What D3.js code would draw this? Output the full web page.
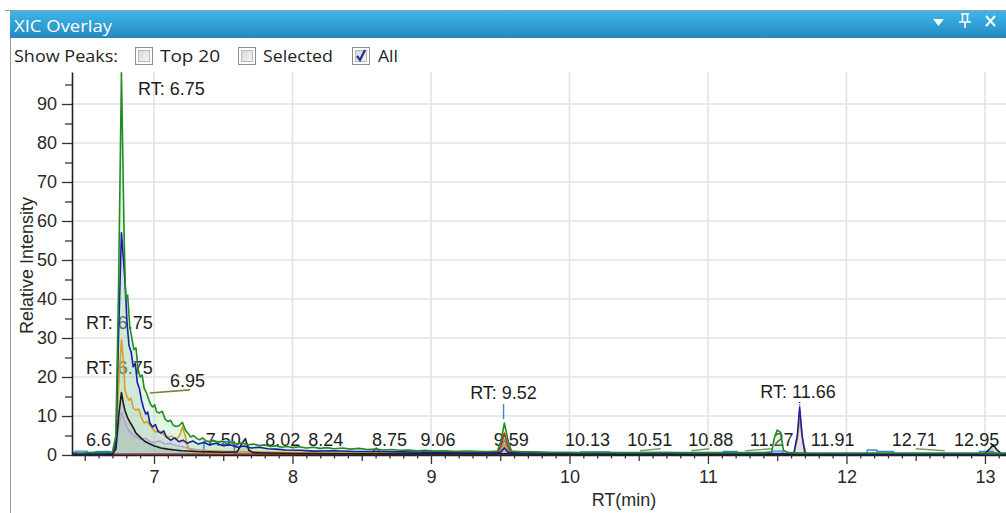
<!DOCTYPE html>
<html><head><meta charset="utf-8">
<script src="https://cdn.jsdelivr.net/npm/d3@7"></script>
<style>body{margin:0;background:#fff;overflow:hidden} svg{display:block}</style>
</head><body><svg id="c" width="1006" height="513"></svg>
<script>
// ---------------- data ----------------
const xTicks = [7, 8, 9, 10, 11, 12, 13];
const yTicks = [0, 10, 20, 30, 40, 50, 60, 70, 80, 90];

const greenXIC = [[6.40,0.6],[6.48,0.5],[6.56,0.7],[6.64,0.6],[6.70,0.8],[6.725,5],[6.745,45],[6.765,98],[6.785,55],[6.795,40],[6.81,41],[6.825,33],[6.84,30],[6.855,27],[6.87,27.5],[6.885,22],[6.90,20],[6.915,20.5],[6.93,17],[6.945,16],[6.96,14.5],[6.975,13],[6.99,12.3],[7.005,12.9],[7.02,11],[7.04,10.8],[7.06,11.2],[7.08,9.2],[7.10,8.6],[7.12,8.9],[7.14,7.6],[7.16,7.3],[7.18,7.5],[7.205,8.4],[7.225,6.5],[7.245,5.6],[7.265,4.6],[7.285,5.0],[7.31,4.2],[7.33,3.9],[7.35,4.4],[7.375,3.6],[7.40,3.4],[7.43,3.8],[7.46,3.2],[7.49,3.5],[7.52,3.0],[7.56,3.2],[7.60,2.9],[7.64,3.1],[7.68,2.6],[7.72,2.8],[7.76,2.4],[7.80,2.6],[7.84,2.2],[7.88,2.4],[7.92,2.0],[7.96,2.2],[8.00,1.9],[8.05,2.1],[8.10,1.8],[8.15,2.0],[8.20,1.7],[8.25,1.9],[8.30,1.6],[8.36,1.8],[8.42,1.5],[8.48,1.7],[8.54,1.4],[8.60,1.5],[8.66,1.3],[8.72,1.4],[8.78,1.2],[8.84,1.3],[8.90,1.1],[8.96,1.2],[9.02,1.0],[9.10,1.1],[9.18,0.9],[9.26,1.0],[9.34,0.9],[9.42,0.9],[9.48,1.0],[9.505,3.5],[9.53,8.2],[9.555,4.0],[9.58,1.0],[9.66,0.8],[9.76,0.8],[9.86,0.7],[9.96,0.7],[10.06,0.6],[10.2,0.7],[10.35,0.6],[10.5,0.6],[10.65,0.7],[10.8,0.6],[10.95,0.6],[11.1,0.6],[11.25,0.6],[11.40,0.6],[11.46,0.8],[11.48,4.5],[11.50,6.4],[11.525,5.8],[11.545,1.2],[11.58,0.6],[11.7,0.5],[11.85,0.5],[12.0,0.5],[12.2,0.5],[12.4,0.5],[12.6,0.5],[12.8,0.5],[13.0,0.5],[13.16,0.5]];

const navyXIC = [[6.40,0.3],[6.60,0.3],[6.70,0.4],[6.725,3],[6.745,32],[6.765,57],[6.78,50],[6.795,42],[6.805,34],[6.82,28],[6.835,26.5],[6.85,22.6],[6.865,23.5],[6.88,18.5],[6.895,17],[6.91,14],[6.925,12],[6.94,10.5],[6.955,11],[6.97,8.2],[6.99,7.2],[7.01,7.8],[7.03,6.0],[7.05,5.6],[7.07,6.2],[7.09,4.6],[7.12,3.8],[7.15,4.4],[7.18,3.4],[7.21,3.8],[7.24,3.0],[7.28,3.6],[7.32,2.8],[7.36,3.2],[7.40,2.6],[7.45,3.0],[7.50,2.4],[7.55,2.6],[7.60,2.0],[7.65,2.3],[7.70,1.8],[7.76,2.0],[7.82,1.6],[7.88,1.5],[7.95,1.3],[8.05,1.2],[8.15,1.0],[8.3,1.1],[8.45,0.9],[8.6,0.9],[8.8,0.8],[9.0,0.7],[9.2,0.7],[9.4,0.6],[9.50,0.6],[9.53,1.8],[9.56,0.6],[9.8,0.5],[10.2,0.4],[10.6,0.4],[11.0,0.4],[11.4,0.4],[11.62,0.4],[11.645,5],[11.662,12.3],[11.68,5],[11.70,0.4],[12.0,0.3],[12.6,0.3],[13.16,0.3]];

const goldXIC = [[6.40,0.2],[6.70,0.3],[6.725,2],[6.745,18],[6.765,29.5],[6.78,24],[6.79,16.7],[6.805,15],[6.82,14],[6.835,14.5],[6.85,12],[6.87,11.5],[6.89,11.8],[6.91,9.5],[6.93,8.2],[6.95,8.6],[6.98,7.2],[7.01,5.9],[7.04,6.2],[7.07,5.2],[7.10,4.6],[7.13,4.8],[7.16,4.0],[7.185,5.0],[7.205,7.2],[7.225,5],[7.245,2],[7.27,1.2],[7.35,1.1],[7.45,1.0],[7.55,0.9],[7.7,0.8],[7.9,0.7],[8.1,0.6],[8.4,0.5],[8.8,0.5],[9.2,0.4],[9.50,0.4],[9.53,2.5],[9.56,0.4],[10,0.3],[11,0.3],[11.62,0.3],[11.645,4],[11.663,9.3],[11.685,3.5],[11.71,0.3],[12.2,0.3],[13.16,0.3]];

const lilacXIC = [[6.40,0.1],[6.70,0.2],[6.725,1.5],[6.745,7],[6.765,11],[6.785,9],[6.80,7.5],[6.82,6.2],[6.85,5.0],[6.88,4.5],[6.91,4.0],[6.94,4.3],[6.97,3.5],[7.00,3.2],[7.04,3.6],[7.08,2.8],[7.12,3.0],[7.16,2.4],[7.20,2.2],[7.25,1.7],[7.30,1.4],[7.40,1.1],[7.50,0.9],[7.7,0.7],[8.0,0.5],[8.5,0.4],[9.0,0.3],[10,0.3],[11,0.2],[12,0.2],[13.16,0.2]];

const blackXIC = [[6.40,0.1],[6.70,0.2],[6.725,1.5],[6.745,10],[6.765,16],[6.78,13],[6.79,11.5],[6.81,9.5],[6.83,8.2],[6.85,7.0],[6.87,5.6],[6.90,4.6],[6.93,3.6],[6.96,3.0],[7.00,2.4],[7.05,1.8],[7.10,1.5],[7.15,1.3],[7.2,1.1],[7.3,0.9],[7.4,0.8],[7.5,0.7],[7.6,0.8],[7.635,3.0],[7.66,4.2],[7.685,1.2],[7.72,0.6],[7.8,0.5],[8.0,0.4],[8.5,0.3],[9.0,0.3],[9.5,0.3],[10,0.2],[11,0.2],[12,0.2],[12.95,0.2],[13.0,0.4],[13.035,1.6],[13.06,2.6],[13.085,1.4],[13.12,0.3],[13.16,0.2]];

const redXIC = [[6.40,0.1],[7.0,0.2],[8.0,0.2],[8.57,0.2],[8.59,1.2],[8.605,1.8],[8.62,1.2],[8.64,0.2],[9.0,0.2],[9.48,0.2],[9.505,2.5],[9.53,5.6],[9.555,2.5],[9.58,0.2],[10,0.1],[13.16,0.1]];

const grayXIC = [[6.40,0],[9.49,0.1],[9.51,2],[9.53,4],[9.55,2],[9.57,0.1],[13.16,0]];

const skyXIC = [[6.40,0.3],[6.43,0.3],[6.43,1.0],[6.52,1.0],[6.52,0.5],[6.58,0.5],[6.58,0.9],[6.68,0.9],[6.68,0.3],[7.36,0.3],[7.36,3.5],[7.58,3.5],[7.58,0.3],[8.94,0.3],[8.94,0.9],[9.37,0.9],[9.37,0.3],[10.08,0.3],[10.08,0.8],[10.29,0.8],[10.29,0.3],[11.11,0.3],[11.11,0.9],[11.21,0.9],[11.21,0.3],[11.46,0.3],[11.46,1.0],[11.54,1.0],[11.54,0.3],[12.15,0.3],[12.15,1.3],[12.22,1.3],[12.22,0.9],[12.34,0.9],[12.34,0.3],[12.96,0.3],[12.96,0.9],[13.06,0.9],[13.06,0.3],[13.16,0.3]];

// peak labels near the baseline
const peakLabelText = ["6.6","7.50","8.02","8.24","8.75","9.06","9.59","10.13","10.51","10.88","11.27","11.91","12.71","12.95"];
const peakLabelRT   = [6.60, 7.50, 7.93, 8.24, 8.70, 9.05, 9.58, 10.13, 10.58, 11.02, 11.46, 11.90, 12.49, 12.94];
// leader segments: peak RT -> label RT
const leaderFromRT = [10.51, 10.88, 11.27, 12.71];
const leaderToRT   = [10.66, 11.01, 11.46, 12.50];

// RT callouts
const calloutText  = ["RT: 6.75", "RT: 6.75", "RT: 6.75", "6.95", "RT: 9.52", "RT: 11.66"];
const calloutRT    = [6.885, 6.509, 6.509, 7.116, 9.524, 11.65];
const calloutLevel = [92.3, 32.3, 20.8, 17.4, 14.4, 14.6];

// ---------------- layout ----------------
const svg = d3.select("#c");
const W = 1006, H = 513;
const plot = {left: 72, right: 1006, top: 72, bottom: 455};

const x = d3.scaleLinear().domain([6.408, 13.152]).range([plot.left, plot.right]);
const y = d3.scaleLinear().domain([0, 98.2]).range([plot.bottom, plot.top]);

const defs = svg.append("defs");
const tg = defs.append("linearGradient").attr("id","titleG").attr("x1",0).attr("y1",0).attr("x2",0).attr("y2",1);
tg.append("stop").attr("offset","0%").attr("stop-color","#3fb8ea");
tg.append("stop").attr("offset","55%").attr("stop-color","#2f9fd4");
tg.append("stop").attr("offset","100%").attr("stop-color","#2788bf");
const cg = defs.append("linearGradient").attr("id","cbG").attr("x1",0).attr("y1",0).attr("x2",1).attr("y2",1);
cg.append("stop").attr("offset","0%").attr("stop-color","#d6d6d6");
cg.append("stop").attr("offset","100%").attr("stop-color","#f7f7f7");
defs.append("clipPath").attr("id","clip").append("rect")
  .attr("x", plot.left).attr("y", plot.top - 4).attr("width", plot.right - plot.left).attr("height", plot.bottom - plot.top + 5);

// window frame
svg.append("rect").attr("x",0).attr("y",0).attr("width",W).attr("height",H).attr("fill","#fff");
svg.append("rect").attr("x",10).attr("y",10).attr("width",W-10).attr("height",28).attr("fill","url(#titleG)");
svg.append("line").attr("x1",5).attr("x2",W).attr("y1",10.5).attr("y2",10.5).attr("stroke","#9a9a9a");
svg.append("line").attr("x1",10.5).attr("x2",10.5).attr("y1",38).attr("y2",H).attr("stroke","#9c9c9c");

svg.append("text").attr("x",14).attr("y",32).text("XIC Overlay")
  .attr("font-family","'Open Sans', 'Noto Sans', sans-serif").attr("font-size",16.5).attr("fill","#fff")
  .attr("textLength",98).attr("lengthAdjust","spacingAndGlyphs");
// title icons
svg.append("path").attr("d","M933,19 L944,19 L938.5,26 Z").attr("fill","#fff");
svg.append("path").attr("d","M961,14 L969,14 M962.5,14 L962.5,22 M967.5,14 L967.5,22 M959,22 L971,22 M965,22 L965,28")
  .attr("stroke","#fff").attr("stroke-width",1.6).attr("fill","none");
svg.append("path").attr("d","M986,16 L995,26 M995,16 L986,26").attr("stroke","#fff").attr("stroke-width",2).attr("fill","none");

// checkbox row
const ui = svg.append("g").attr("font-family","'Open Sans', 'Noto Sans', sans-serif").attr("font-size",16).attr("fill","#1e1e1e");
ui.append("text").attr("x",14).attr("y",62).text("Show Peaks:").attr("textLength",104).attr("lengthAdjust","spacingAndGlyphs");
const boxes = [{x:135, label:"Top 20", lx:160, lw:60, on:false},
               {x:238, label:"Selected", lx:263, lw:70, on:false},
               {x:352, label:"All", lx:378, lw:20, on:true}];
boxes.forEach(b => {
  ui.append("rect").attr("x",b.x+0.5).attr("y",47.5).attr("width",17).attr("height",17).attr("fill","#fff").attr("stroke","#8c8c8c");
  ui.append("rect").attr("x",b.x+3.5).attr("y",50.5).attr("width",11).attr("height",11).attr("fill","url(#cbG)").attr("stroke","#b9b9b9");
  if (b.on) ui.append("path").attr("d",`M${b.x+5},${56} L${b.x+8},${60} L${b.x+13},${50}`)
      .attr("stroke","#253a8e").attr("stroke-width",2.4).attr("fill","none");
  ui.append("text").attr("x",b.lx).attr("y",62).text(b.label).attr("textLength",b.lw).attr("lengthAdjust","spacingAndGlyphs");
});

// gridlines
const grid = svg.append("g").attr("stroke","#e3e3e3").attr("stroke-width",1.6);
xTicks.forEach(t => grid.append("line").attr("x1",x(t)).attr("x2",x(t)).attr("y1",plot.top).attr("y2",plot.bottom));
yTicks.filter(t => t > 0).forEach(t => grid.append("line").attr("x1",plot.left).attr("x2",plot.right).attr("y1",y(t)).attr("y2",y(t)));

const fontAxis = "'Liberation Sans', Arial, sans-serif";

// labels (drawn beneath the traces, as in the original)
const lab = svg.append("g").attr("font-family",fontAxis).attr("font-size",18).attr("fill","#1e1e1e");
peakLabelText.forEach((t, i) => lab.append("text").attr("x", x(peakLabelRT[i])).attr("y", y(2.3))
  .attr("text-anchor","middle").text(t));
calloutText.forEach((t, i) => lab.append("text").attr("x", x(calloutRT[i])).attr("y", y(calloutLevel[i]))
  .attr("text-anchor", i >= 4 ? "middle" : "start").text(t));

// leaders
const lg = svg.append("g").attr("clip-path","url(#clip)");
leaderFromRT.forEach((r, i) => lg.append("line").attr("x1",x(r)).attr("x2",x(leaderToRT[i]))
  .attr("y1",y(1.1)).attr("y2",y(1.6)).attr("stroke","#7f9a6e").attr("stroke-width",1.4));
lg.append("line").attr("x1",x(6.97)).attr("y1",y(15.9)).attr("x2",x(7.26)).attr("y2",y(16.7)).attr("stroke","#6e8a3c").attr("stroke-width",1.6);
lg.append("line").attr("x1",x(9.524)).attr("x2",x(9.524)).attr("y1",y(13.1)).attr("y2",y(9.2)).attr("stroke","#3b86d1").attr("stroke-width",1.4);
lg.append("line").attr("x1",x(11.662)).attr("x2",x(11.662)).attr("y1",y(13.6)).attr("y2",y(12.3)).attr("stroke","#1c1ca6").attr("stroke-width",1.4).attr("stroke-dasharray","1,1.5");

// series
const series = [
  {data: skyXIC,   stroke:"#3b86d1", fill:"#3b86d1", fo:0.0,  w:1.4},
  {data: grayXIC,  stroke:"#8a8a8a", fill:"#a0a0a0", fo:0.45, w:1.4},
  {data: redXIC,   stroke:"#b8322a", fill:"#b8322a", fo:0.15, w:1.6},
  {data: lilacXIC, stroke:"#b597e0", fill:"#c9b3ea", fo:0.25, w:1.4},
  {data: goldXIC,  stroke:"#d6a020", fill:"#e8c25a", fo:0.12, w:1.6},
  {data: blackXIC, stroke:"#1c1c1c", fill:"#9a9aa4", fo:0.35, w:1.6},
  {data: navyXIC,  stroke:"#1c1ca6", fill:"#8fa6d8", fo:0.22, w:1.6},
  {data: greenXIC, stroke:"#238b23", fill:"#9be39b", fo:0.3,  w:1.6}
];
const area = d3.area().x(d => x(d[0])).y0(y(0)).y1(d => y(d[1]));
const line = d3.line().x(d => x(d[0])).y(d => y(d[1]));
const sg = svg.append("g").attr("clip-path","url(#clip)");
series.forEach(s => sg.append("path").attr("d", area(s.data)).attr("fill", s.fill).attr("fill-opacity", s.fo));
series.forEach(s => sg.append("path").attr("d", line(s.data)).attr("fill","none").attr("stroke", s.stroke)
  .attr("stroke-width", s.w).attr("stroke-linejoin","round"));

// axes
svg.append("g").attr("transform",`translate(${plot.left},0)`)
  .call(d3.axisLeft(y).tickValues(yTicks).tickSize(10).tickSizeOuter(0).tickPadding(5).tickFormat(d3.format("d")));
svg.append("g").attr("transform",`translate(${plot.left},0)`)
  .call(d3.axisLeft(y).tickValues(d3.range(5, 100, 10)).tickSize(7).tickFormat(""))
  .call(g => g.select(".domain").remove());
svg.append("g").attr("transform",`translate(0,${plot.bottom})`)
  .call(d3.axisBottom(x).tickValues(xTicks).tickSize(9).tickSizeOuter(0).tickPadding(6).tickFormat(d3.format("d")));
svg.append("g").attr("transform",`translate(0,${plot.bottom})`)
  .call(d3.axisBottom(x).tickValues(d3.range(65, 132, 10).map(v => v / 10)).tickSize(6).tickFormat(""))
  .call(g => g.select(".domain").remove());
svg.append("g").attr("transform",`translate(0,${plot.bottom})`)
  .call(d3.axisBottom(x).tickValues(d3.range(65, 132).filter(v => v % 5 !== 0).map(v => v / 10)).tickSize(3.5).tickFormat(""))
  .call(g => g.select(".domain").remove());
svg.selectAll(".domain").attr("stroke","#222").attr("stroke-width",1.6);
svg.selectAll(".tick line").attr("stroke","#333").attr("stroke-width",1.3);
svg.selectAll(".tick text").attr("font-family",fontAxis).attr("font-size",18).attr("fill","#2a2a2a");

// axis titles
svg.append("text").attr("transform",`translate(33,${(plot.top + plot.bottom) / 2 + 2}) rotate(-90)`)
  .attr("text-anchor","middle").attr("font-family",fontAxis).attr("font-size",18).attr("fill","#2a2a2a").text("Relative Intensity");
svg.append("text").attr("x",624).attr("y",506).attr("text-anchor","middle")
  .attr("font-family",fontAxis).attr("font-size",18).attr("fill","#2a2a2a").text("RT(min)");
</script></body></html>
